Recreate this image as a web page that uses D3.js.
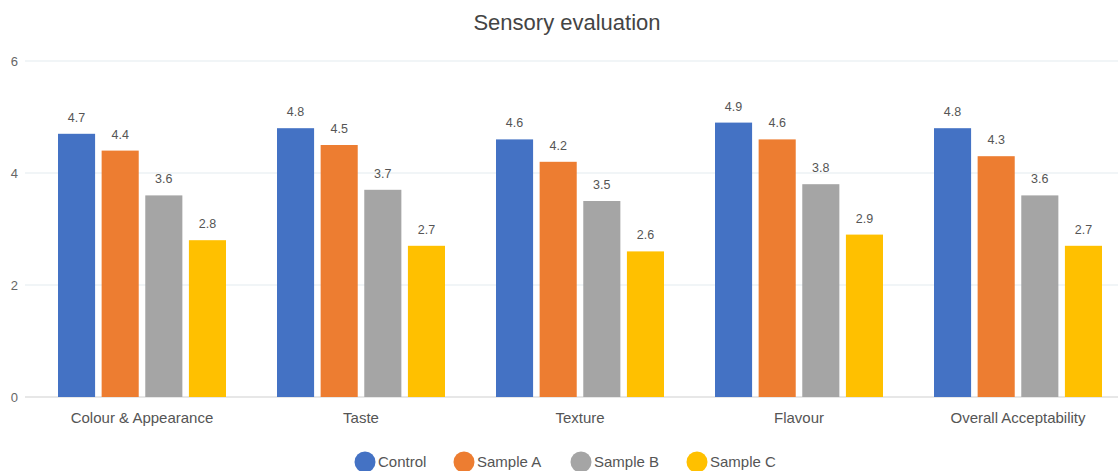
<!DOCTYPE html>
<html>
<head>
<meta charset="utf-8">
<script src="https://cdn.jsdelivr.net/npm/d3@7"></script>
<style>
  html, body { margin: 0; padding: 0; background: #fff; }
  svg { display: block; font-family: "Liberation Sans", Arial, sans-serif; }
</style>
</head>
<body>
<svg id="chart" width="1118" height="471"></svg>
<script>
// Sensory scores per attribute and sample
const categories = ["Colour & Appearance", "Taste", "Texture", "Flavour", "Overall Acceptability"];
const seriesNames = ["Control", "Sample A", "Sample B", "Sample C"];
const control = [4.7, 4.8, 4.6, 4.9, 4.8];
const sampleA = [4.4, 4.5, 4.2, 4.6, 4.3];
const sampleB = [3.6, 3.7, 3.5, 3.8, 3.6];
const sampleC = [2.8, 2.7, 2.6, 2.9, 2.7];
const yTicks = [0, 2, 4, 6];
const colors = ["#4472C4", "#ED7D31", "#A5A5A5", "#FFC000"];

const seriesValues = [control, sampleA, sampleB, sampleC];
const rows = categories.map((c, i) => ({
  category: c,
  values: seriesNames.map((s, j) => ({ series: s, value: seriesValues[j][i] }))
}));

const svg = d3.select("#chart");

const x0 = d3.scaleBand().domain(categories).range([32.5, 1127.5]).padding(0);
const x1 = d3.scaleBand().domain(seriesNames).range([25.5, 193.5]).paddingInner(0.15).paddingOuter(0);
const y = d3.scaleLinear().domain([0, 6]).range([397, 61]);
const color = d3.scaleOrdinal().domain(seriesNames).range(colors);

// Title
svg.append("text")
  .attr("x", 567).attr("y", 30)
  .attr("text-anchor", "middle")
  .attr("font-size", 22)
  .attr("fill", "#444")
  .text("Sensory evaluation");

// Gridlines and y tick labels
const yAxis = svg.append("g");
yAxis.selectAll("line.grid")
  .data(yTicks)
  .join("line")
  .attr("x1", 25).attr("x2", 1118)
  .attr("y1", d => y(d)).attr("y2", d => y(d))
  .attr("stroke", d => d === 0 ? "#cfcfcf" : "#e3ebef")
  .attr("stroke-width", 1);
yAxis.selectAll("text")
  .data(yTicks)
  .join("text")
  .attr("x", 18).attr("y", d => y(d) + 4.5)
  .attr("text-anchor", "end")
  .attr("font-size", 13)
  .attr("fill", "#666")
  .text(d => d);

// Bars
const groups = svg.append("g").selectAll("g")
  .data(rows)
  .join("g")
  .attr("transform", d => `translate(${x0(d.category)},0)`);

groups.selectAll("rect")
  .data(d => d.values)
  .join("rect")
  .attr("x", d => x1(d.series))
  .attr("width", x1.bandwidth())
  .attr("y", d => y(d.value))
  .attr("height", d => y(0) - y(d.value))
  .attr("fill", d => color(d.series));

groups.selectAll("text")
  .data(d => d.values)
  .join("text")
  .attr("x", d => x1(d.series) + x1.bandwidth() / 2)
  .attr("y", d => y(d.value) - 12)
  .attr("text-anchor", "middle")
  .attr("font-size", 12.5)
  .attr("fill", "#555")
  .text(d => d.value.toFixed(1));

// Category labels
svg.append("g").selectAll("text")
  .data(categories)
  .join("text")
  .attr("x", d => x0(d) + x0.bandwidth() / 2)
  .attr("y", 423)
  .attr("text-anchor", "middle")
  .attr("font-size", 15)
  .attr("fill", "#555")
  .text(d => d);

// Legend
const legendX = [365, 464, 581, 697];
const legend = svg.append("g").selectAll("g")
  .data(seriesNames)
  .join("g")
  .attr("transform", (d, i) => `translate(${legendX[i]},462)`);
legend.append("circle")
  .attr("r", 10.5)
  .attr("fill", d => color(d));
legend.append("text")
  .attr("x", 13).attr("y", 5)
  .attr("font-size", 15)
  .attr("fill", "#555")
  .text(d => d);
</script>
</body>
</html>
